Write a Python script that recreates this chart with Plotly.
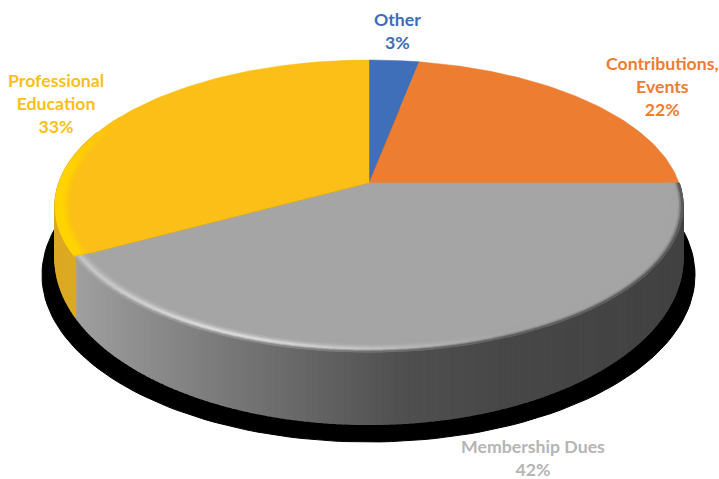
import numpy as np
import plotly.graph_objects as go

categories = ["Other", "Contributions,<br>Events", "Membership Dues", "Professional<br>Education"]
values = [3, 22, 42, 33]
top_colors = ["#3f6fb8", "#ed7d31", "#a5a5a5", "#fcbf17"]
label_colors = ["#3f6db5", "#ed7d31", "#b5b5b5", "#fbbf17"]
label_x = [397, 662, 533, 56]
label_y = [31, 86, 458, 103]

CX, K = 369.0, -0.1575
TOP = dict(a=310.0, y0=183.0, f=142.4)
BOT = dict(a=310.0, y0=232.0, f=162.0)


def project(theta, s=1.0, plane=TOP):
    """theta in degrees clockwise from the back of the disc."""
    t = np.radians(theta)
    u, v = s * np.sin(t), -s * np.cos(t)
    den = 1 + K * v
    return CX + plane["a"] * u / den, plane["y0"] + plane["f"] * v / den


def hex_rgb(c):
    return np.array([int(c[i:i + 2], 16) for i in (1, 3, 5)], float)


def mix(a, b, w):
    w = float(np.clip(w, 0, 1))
    r = (hex_rgb(a) * (1 - w) + hex_rgb(b) * w).round().astype(int)
    return "#%02x%02x%02x" % tuple(int(i) for i in r)


wall_stops_x = [60, 150, 230, 290, 400, 500, 690]
wall_stops_v = [164, 140, 120, 106, 80, 72, 66]


def wall_gray(x):
    g = int(np.interp(x, wall_stops_x, wall_stops_v))
    return "#%02x%02x%02x" % (g, g, g)


fig = go.Figure()


def poly(xs, ys, color, lw=1.0):
    fig.add_trace(go.Scatter(
        x=list(xs) + [xs[0]], y=list(ys) + [ys[0]], mode="lines", fill="toself",
        fillcolor=color, line=dict(color=color, width=lw),
        hoverinfo="skip", showlegend=False))


# cast shadow
a = np.linspace(0, 2 * np.pi, 181)
poly(368.5 + 326.5 * np.cos(a), 275 + 167 * np.sin(a), "#000000")

# cumulative slice boundaries
edges = np.cumsum([0] + values) / sum(values) * 360.0
gray_end, yellow_end = edges[3], edges[4]

# side wall, slice by slice along the rim
step = 1.0
for th in np.arange(90, 292, step):
    t2 = np.array([th, th + step])
    x1, y1 = project(t2, 1.0, TOP)
    x2, y2 = project(t2[::-1], 1.0, BOT)
    mid = th + step / 2
    col = wall_gray(x1.mean()) if mid < gray_end else "#dca922"
    poly(np.r_[x1, x2], np.r_[y1, y2], col, lw=1.6)

# top faces
for i in range(len(values)):
    th = np.linspace(edges[i], edges[i + 1], 80)
    x, y = project(th)
    poly(np.r_[CX, x], np.r_[TOP["y0"], y], top_colors[i], lw=0.5)

# bevel around the rim
levels = np.linspace(0.955, 1.0, 10)
bstep = 2.0


def bevel_color(theta, lev, x):
    f = (lev - levels[0]) / (levels[-1] - levels[0])
    if theta < gray_end:
        glow = np.clip((500 - x) / 240, 0, 1) * (0.55 + 0.45 * np.clip((x - 80) / 120, 0, 1))
        light = mix("#a5a5a5", "#e2e2e2", glow)
        rim = wall_gray(x)
        if f < 0.65:
            return mix("#a5a5a5", light, (f / 0.65) ** 2)
        return mix(light, rim, ((f - 0.65) / 0.35) ** 1.5)
    glow = np.clip((300 - theta) / 25, 0, 1)
    light = mix("#fcbf17", "#ffd400", glow)
    if f < 0.5:
        return mix("#fcbf17", light, f / 0.5)
    return light


for th in np.arange(90, 300, bstep):
    mid = th + bstep / 2
    hi = min(th + bstep, gray_end) if th < gray_end else th + bstep
    for j in range(len(levels) - 1):
        s1, s2 = levels[j], levels[j + 1]
        xa, ya = project(np.array([th, hi]), s1)
        xb, yb = project(np.array([hi, th]), s2)
        poly(np.r_[xa, xb], np.r_[ya, yb], bevel_color(mid, (s1 + s2) / 2, xa.mean()), lw=0.8)

# labels
for c, v, col, lx, ly in zip(categories, values, label_colors, label_x, label_y):
    fig.add_annotation(x=lx, y=ly, xref="x", yref="y", showarrow=False, align="center",
                       text=f"<b>{c}<br>{v}%</b>",
                       font=dict(family="Lato", size=17.7, color=col))

fig.update_layout(
    width=719, height=479, margin=dict(l=0, r=0, t=0, b=0),
    paper_bgcolor="white", plot_bgcolor="white", showlegend=False,
    xaxis=dict(range=[0, 719], visible=False, fixedrange=True),
    yaxis=dict(range=[479, 0], visible=False, fixedrange=True),
)
fig.write_html("out.html", config={"displayModeBar": False},
               post_script="document.body.style.margin='0';document.body.style.overflow='hidden';")
